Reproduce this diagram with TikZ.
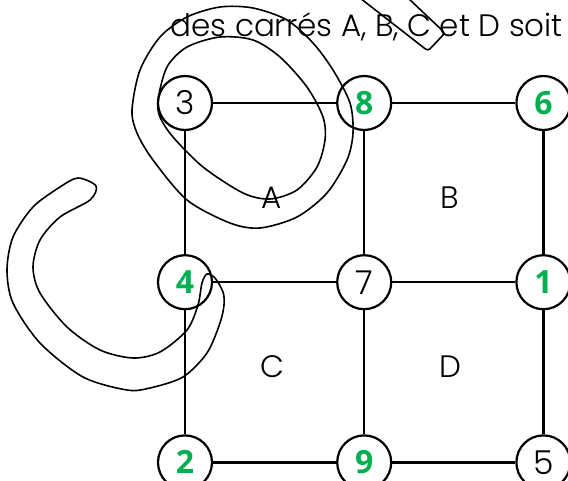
\documentclass[tikz,border=0pt]{standalone}
\usepackage{fontspec}
\setmainfont{Poppins Light}
\newfontfamily\digitfont{Open Sans}
\usetikzlibrary{positioning}
\definecolor{givenGreen}{HTML}{00B050}

\begin{document}
\begin{tikzpicture}[
		x=1pt, y=-1pt,
		node distance=123pt,
		every node/.style={font=\fontsize{31}{35}\selectfont},
		num/.style={circle, draw, line width=2.2pt, minimum size=54pt, inner sep=0pt, font=\fontsize{33}{36}\selectfont},
		given/.style={num, font=\digitfont\bfseries\fontsize{32}{36}\selectfont, text=givenGreen},
		edge/.style={line width=2.2pt},
		scribble/.style={line width=1.6pt, line join=round}
	]
		\useasboundingbox (0,0) rectangle (568,481);

		\node[anchor=base west] (title) at (167,37) {des carrés A, B, C et D soit};

		\node[num] (n3) at (185,103) {3};
		\node[given, right=of n3] (n8) {8};
		\node[given, right=of n8] (n6) {6};
		\node[given, below=of n3] (n4) {4};
		\node[num, right=of n4] (n7) {7};
		\node[given, right=of n7] (n1) {1};
		\node[given, below=of n4, yshift=-1pt] (n2) {2};
		\node[given, right=of n2] (n9) {9};
		\node[num, right=of n9] (n5) {5};

		\node (sqA) at (272,198) {A};
		\node (sqB) at (450,198) {B};
		\node (sqC) at (272,367) {C};
		\node (sqD) at (450,367) {D};

		\draw[edge] (n3) -- (n8);
		\draw[edge] (n8) -- (n6);
		\draw[edge] (n4) -- (n7);
		\draw[edge] (n7) -- (n1);
		\draw[edge] (n2) -- (n9);
		\draw[edge] (n9) -- (n5);
		\draw[edge] (n3) -- (n4);
		\draw[edge] (n4) -- (n2);
		\draw[edge] (n8) -- (n7);
		\draw[edge] (n7) -- (n9);
		\draw[edge] (n6) -- (n1);
		\draw[edge] (n1) -- (n5);

		% hand-drawn marks
		\draw[scribble] plot[smooth cycle] coordinates {(132,110) (140,70) (160,37) (187,17) (220,7) (253,8) (287,20) (313,43) (333,70) (350,103) (353,133) (347,160) (327,193) (297,217) (260,228) (230,223) (187,200) (153,160) (137,133)};
		\draw[scribble] plot[smooth cycle] coordinates {(158,100) (167,67) (187,47) (220,37) (253,40) (280,57) (307,87) (323,117) (325,140) (317,167) (297,190) (270,199) (243,193) (203,167) (173,137) (160,117)};
		\draw[scribble, rounded corners=3pt] (360,-2) -- (428,51) -- (445,33) -- (408,-2);
		\draw[scribble] plot[smooth cycle] coordinates {(78,178) (96,186) (90,200) (60,217) (40,240) (33,267) (40,293) (67,327) (100,350) (133,358) (160,352) (187,330) (198,305) (202,283) (207,274) (215,278) (223,292) (224,305) (220,323) (207,353) (183,377) (150,388) (127,390) (83,377) (40,343) (13,303) (7,270) (13,237) (33,207) (60,187)};
	\end{tikzpicture}
\end{document}
